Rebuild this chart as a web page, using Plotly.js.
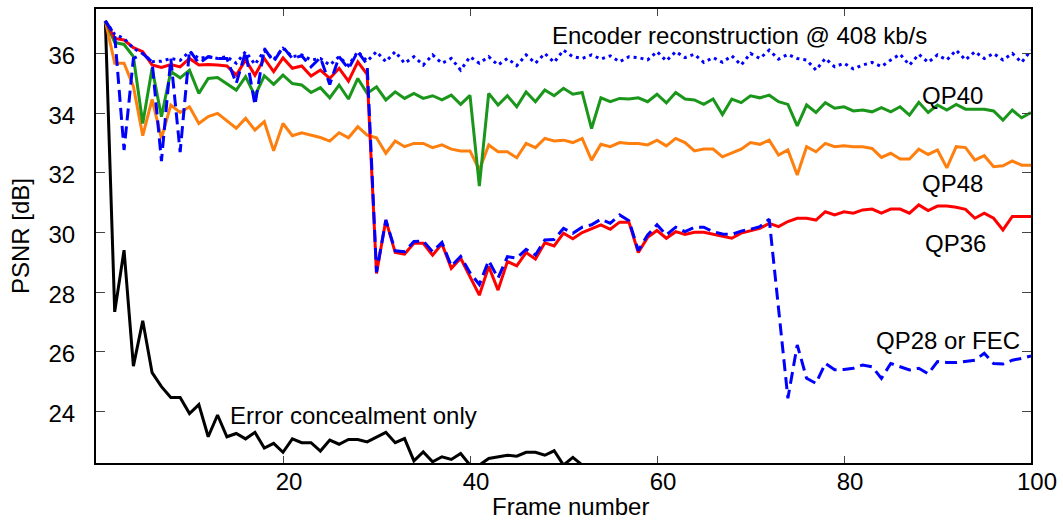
<!DOCTYPE html>
<html>
<head>
<meta charset="utf-8">
<script src="https://cdn.plot.ly/plotly-3.0.1.min.js"></script>
<style>
  html, body { margin: 0; padding: 0; background: #fff; }
  #chart { width: 1063px; height: 520px; }
</style>
</head>
<body>
<div id="chart"></div>
<script>
// PSNR per frame (dB) for each decoding / protection strategy
const encoderRecon = [37.1, 36.65, 36.51, 36.18, 36.0, 35.73, 35.75, 35.84, 35.78, 36.07,
  35.84, 35.9, 35.84, 35.9, 35.68, 36.07, 35.64, 36.1, 35.8, 36.18,
  35.9, 35.96, 35.79, 35.84, 35.62, 35.9, 35.6, 36.07, 35.75, 36.07,
  35.73, 36.07, 35.68, 35.9, 35.62, 35.96, 35.68, 35.84, 35.45, 35.9,
  35.68, 35.9, 35.62, 35.84, 35.6, 35.96, 35.68, 36.01, 35.71, 36.12,
  35.9, 35.84, 35.96, 35.82, 35.93, 35.73, 35.9, 35.87, 35.79, 36.07,
  35.76, 36.07, 35.87, 35.98, 35.71, 35.87, 35.71, 35.93, 35.62, 36.01,
  35.84, 36.12, 35.82, 35.98, 35.84, 35.79, 35.45, 35.84, 35.56, 35.68,
  35.49, 35.62, 35.71, 35.57, 35.79, 35.98, 35.62, 35.98, 35.71, 35.96,
  35.79, 36.12, 35.79, 36.07, 35.84, 36.01, 35.79, 36.01, 35.71, 36.12];

const qp40 = [37.1, 36.38, 36.31, 35.9, 33.66, 35.51, 33.89, 35.4, 35.19, 35.45,
  34.67, 35.17, 35.2, 35.0, 34.78, 35.23, 34.59, 35.26, 34.97, 35.28,
  35.0, 34.95, 34.7, 34.86, 34.52, 34.95, 34.48, 35.17, 34.67, 34.89,
  34.45, 34.72, 34.5, 34.67, 34.5, 34.59, 34.45, 34.61, 34.3, 34.6,
  31.56, 34.67, 34.28, 34.59, 34.22, 34.72, 34.39, 34.78, 34.59, 34.84,
  34.64, 34.7, 33.49, 34.52, 34.39, 34.5, 34.48, 34.52, 34.39, 34.64,
  34.35, 34.7, 34.48, 34.45, 34.3, 34.48, 33.96, 34.48, 34.36, 34.59,
  34.52, 34.61, 34.39, 34.3, 33.58, 34.28, 34.03, 34.36, 34.17, 34.22,
  34.08, 34.11, 34.05, 34.19, 34.05, 34.22, 33.94, 34.37, 34.03, 34.28,
  34.11, 34.3, 34.14, 34.14, 34.14, 34.08, 33.77, 34.11, 33.85, 34.03];

const qp48 = [37.1, 35.68, 35.68, 34.9, 33.25, 34.47, 33.16, 34.28, 34.03, 34.22,
  33.66, 33.89, 34.0, 33.75, 33.5, 33.83, 33.44, 33.72, 32.74, 33.66,
  33.25, 33.35, 33.27, 33.19, 33.07, 33.35, 33.18, 33.55, 33.27, 33.18,
  32.66, 33.07, 32.88, 32.99, 32.99, 32.85, 32.94, 32.8, 32.74, 32.74,
  32.1, 32.94, 32.71, 32.71, 32.51, 32.99, 32.85, 33.16, 33.07, 33.1,
  33.02, 33.16, 32.43, 32.96, 32.88, 33.02, 32.99, 32.99, 32.94, 33.1,
  32.91, 33.16, 33.02, 32.74, 32.8, 32.8, 32.54, 32.66, 32.8, 33.02,
  32.96, 33.1, 32.6, 32.77, 31.93, 32.88, 32.71, 32.99, 32.88, 32.91,
  32.88, 32.88, 32.82, 32.52, 32.66, 32.47, 32.47, 32.8, 32.62, 32.77,
  32.17, 32.88, 32.85, 32.43, 32.58, 32.21, 32.24, 32.4, 32.26, 32.26];

const qp36 = [37.1, 36.51, 36.46, 36.2, 36.07, 35.62, 35.54, 35.64, 35.56, 35.84,
  35.62, 35.64, 35.62, 35.59, 35.28, 35.79, 35.28, 35.84, 35.4, 35.86,
  35.51, 35.59, 35.25, 35.45, 35.17, 35.51, 35.08, 35.73, 35.31, 28.63,
  30.42, 29.33, 29.28, 29.64, 29.64, 29.24, 29.62, 28.8, 29.14, 28.54,
  27.9, 28.86, 28.07, 29.03, 28.88, 29.33, 29.11, 29.66, 29.55, 29.98,
  29.79, 30.0, 30.14, 30.26, 30.11, 30.35, 30.35, 29.33, 29.84, 30.07,
  29.81, 30.03, 29.94, 30.01, 30.01, 29.94, 29.88, 29.81, 29.98, 30.07,
  30.14, 30.31, 30.2, 30.37, 30.48, 30.48, 30.42, 30.7, 30.59, 30.7,
  30.65, 30.76, 30.79, 30.65, 30.79, 30.79, 30.65, 30.93, 30.74, 30.89,
  30.89, 30.85, 30.78, 30.48, 30.65, 30.48, 30.09, 30.54, 30.54, 30.54];

const qp28Fec = [37.1, 36.63, 32.77, 35.84, 36.0, 35.73, 32.4, 35.84, 32.7, 36.12,
  35.68, 35.9, 35.84, 35.84, 35.0, 36.07, 34.28, 36.18, 35.73, 36.23,
  35.84, 35.93, 35.56, 35.87, 34.97, 35.9, 35.5, 36.07, 35.64, 28.67,
  30.42, 29.39, 29.36, 29.7, 29.72, 29.36, 29.67, 28.88, 29.2, 28.65,
  28.26, 29.06, 28.47, 29.19, 29.14, 29.44, 29.25, 29.75, 29.77, 30.14,
  29.98, 30.18, 30.26, 30.45, 30.31, 30.59, 30.4, 29.4, 29.92, 30.26,
  29.92, 30.18, 30.03, 30.18, 30.18, 30.03, 29.95, 29.94, 30.05, 30.11,
  30.2, 30.45, 27.45, 24.44, 26.23, 25.11, 24.94, 25.61, 25.4, 25.41,
  25.45, 25.56, 25.5, 25.11, 25.61, 25.5, 25.39, 25.45, 25.26, 25.67,
  25.64, 25.64, 25.67, 25.72, 25.95, 25.61, 25.59, 25.72, 25.78, 25.86];

const concealOnly = [37.1, 27.34, 29.41, 25.52, 27.04, 25.3, 24.83, 24.47, 24.47, 23.93,
  24.23, 23.15, 23.88, 23.15, 23.26, 23.08, 23.3, 22.77, 22.93, 22.63,
  23.08, 22.95, 22.95, 22.67, 23.04, 22.9, 23.06, 23.06, 22.98, 23.13,
  23.3, 22.95, 23.09, 22.34, 22.64, 22.31, 22.48, 22.39, 22.59, 22.2,
  22.2, 22.42, 22.48, 22.53, 22.5, 22.63, 22.63, 22.53, 22.68, 22.2,
  22.46, 22.2, 22.1];

const frames = (n) => Array.from({length: n}, (_, i) => i + 1);

// Curve labels placed next to their lines
const labelText = ['Encoder reconstruction @ 408 kb/s', 'QP40', 'QP48', 'QP36', 'QP28 or FEC', 'Error concealment only'];
const labelX = [48.55, 88.1, 88.1, 88.4, 83.2, 14.1];
const labelY = [36.61, 34.6, 31.65, 29.65, 26.38, 23.88];

const lineW = 3;
const traces = [
  {y: concealOnly, color: '#000000', dash: 'solid'},
  {y: qp48, color: '#ff7f0e', dash: 'solid'},
  {y: qp40, color: '#1a961a', dash: 'solid'},
  {y: qp36, color: '#ff0000', dash: 'solid'},
  {y: qp28Fec, color: '#0000ff', dash: '12px,6px'},
  {y: encoderRecon, color: '#0000ff', dash: '3px,4px'}
].map(t => ({
  type: 'scatter', mode: 'lines',
  x: frames(t.y.length), y: t.y,
  line: {color: t.color, width: lineW, dash: t.dash},
  hoverinfo: 'skip'
}));

const font = 'Liberation Sans, Arial, Helvetica, sans-serif';
const textFont = {family: font, size: 24, color: '#000'};

const annotations = labelText.map((t, i) => ({
  text: t, x: labelX[i], y: labelY[i], xref: 'x', yref: 'y',
  xanchor: 'left', yanchor: 'middle', showarrow: false, font: textFont
}));
// x-axis title, set slightly right of the plot centre
annotations.push({
  text: 'Frame number', xref: 'paper', yref: 'paper',
  x: 0.507, y: 0, xanchor: 'center', yanchor: 'middle', yshift: -43,
  borderpad: 0, showarrow: false, font: textFont
});

const layout = {
  width: 1063, height: 520,
  margin: {l: 96, r: 32, t: 9, b: 57, pad: 0},
  paper_bgcolor: '#ffffff', plot_bgcolor: '#ffffff',
  showlegend: false,
  font: textFont,
  xaxis: {
    range: [0, 100],
    tickvals: [20, 40, 60, 80, 100],
    ticks: 'inside', ticklen: 7, tickwidth: 1, tickcolor: '#444',
    showline: true, linecolor: '#000', linewidth: 2, mirror: 'ticks',
    showgrid: false, zeroline: false,
    ticklabelshift: 6, ticklabelstandoff: -4,
    tickfont: textFont
  },
  yaxis: {
    range: [22.27, 37.5],
    tickvals: [24, 26, 28, 30, 32, 34, 36],
    ticks: 'inside', ticklen: 9, tickwidth: 1, tickcolor: '#444',
    showline: true, linecolor: '#000', linewidth: 2, mirror: 'ticks',
    showgrid: false, zeroline: false,
    ticklabelstandoff: 14, ticklabelshift: 2,
    tickfont: textFont,
    title: {text: 'PSNR [dB]', font: textFont, standoff: 12}
  },
  annotations: annotations
};

Plotly.newPlot('chart', traces, layout, {displayModeBar: false, staticPlot: true});
</script>
</body>
</html>
